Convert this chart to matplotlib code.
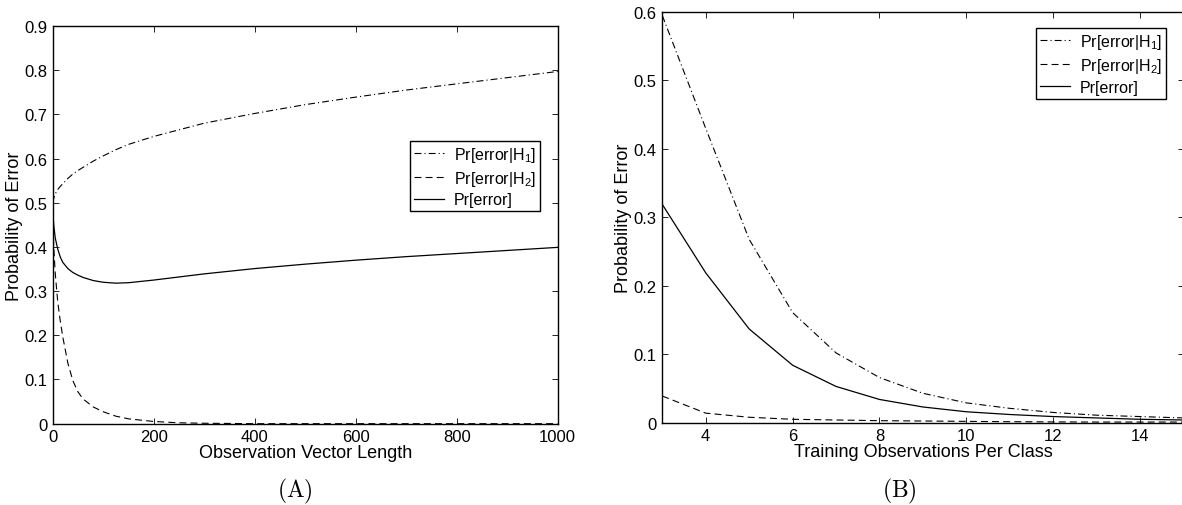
import matplotlib
matplotlib.use('Agg')
import matplotlib.pyplot as plt

# fontes parecidas com o Helvetica do MATLAB
plt.rcParams['font.family'] = ['Liberation Sans', 'DejaVu Sans']
plt.rcParams['mathtext.fontset'] = 'custom'
plt.rcParams['mathtext.rm'] = 'Liberation Sans'
plt.rcParams['mathtext.it'] = 'Liberation Sans:italic'
plt.rcParams['lines.scale_dashes'] = False

# (A) probabilidade de erro vs comprimento do vetor de observacao
obs_len = [0, 2, 5, 10, 15, 20, 30, 40, 50, 60, 80, 100, 125, 150, 200,
           250, 300, 400, 500, 600, 700, 800, 900, 1000]
err_h1_a = [0.50, 0.51, 0.52, 0.53, 0.537, 0.543, 0.555, 0.565, 0.573, 0.58,
            0.594, 0.606, 0.62, 0.632, 0.65, 0.665, 0.68, 0.702, 0.722,
            0.739, 0.755, 0.769, 0.783, 0.797]
err_h2_a = [0.47, 0.40, 0.34, 0.275, 0.232, 0.196, 0.137, 0.097, 0.072, 0.056,
            0.038, 0.027, 0.017, 0.011, 0.005, 0.002, 0.001, 0.0, 0.0, 0.0,
            0.0, 0.0, 0.0, 0.0]
err_tot_a = [0.48, 0.45, 0.42, 0.395, 0.377, 0.365, 0.351, 0.342, 0.336, 0.331,
             0.324, 0.32, 0.318, 0.319, 0.325, 0.332, 0.339, 0.351, 0.361,
             0.37, 0.378, 0.385, 0.392, 0.399]

# (B) probabilidade de erro vs observacoes de treino por classe
n_train = [3, 4, 5, 6, 7, 8, 9, 10, 11, 12, 13, 14, 15]
err_h1_b = [0.595, 0.43, 0.268, 0.161, 0.102, 0.066, 0.043, 0.029, 0.021,
            0.015, 0.011, 0.009, 0.007]
err_h2_b = [0.039, 0.014, 0.008, 0.005, 0.004, 0.003, 0.0025, 0.002, 0.0015,
            0.0012, 0.001, 0.001, 0.001]
err_tot_b = [0.319, 0.219, 0.137, 0.084, 0.053, 0.034, 0.023, 0.016, 0.012,
             0.009, 0.007, 0.005, 0.004]

labels = ['Pr[error|H$_1$]', 'Pr[error|H$_2$]', 'Pr[error]']
dashdot = (0, (5, 2.2, 0.8, 2.2))
dashed = (0, (5, 3))

fig = plt.figure(figsize=(11.82, 5.06), dpi=100)
ax1 = fig.add_axes([0.0446, 0.1607, 0.4272, 0.786])
ax2 = fig.add_axes([0.5603, 0.1626, 0.441, 0.8117])


def style_axes(ax):
    ax.tick_params(direction='in', length=4, width=0.6, labelsize=12,
                   top=True, right=True, pad=4)
    for s in ax.spines.values():
        s.set_linewidth(1.0)


ax1.plot(obs_len, err_h1_a, color='black', lw=0.8, linestyle=dashdot, label=labels[0])
ax1.plot(obs_len, err_h2_a, color='black', lw=0.8, linestyle=dashed, label=labels[1])
ax1.plot(obs_len, err_tot_a, color='black', lw=0.9, linestyle='-', label=labels[2])
ax1.set_xlim(0, 1000)
ax1.set_ylim(0, 0.9)
ax1.set_xticks([0, 200, 400, 600, 800, 1000])
ax1.set_yticks([0, 0.1, 0.2, 0.3, 0.4, 0.5, 0.6, 0.7, 0.8, 0.9])
ax1.set_yticklabels(['0', '0.1', '0.2', '0.3', '0.4', '0.5', '0.6', '0.7', '0.8', '0.9'])
style_axes(ax1)
ax1.set_xlabel('Observation Vector Length', fontsize=13, labelpad=0)
ax1.set_ylabel('Probability of Error', fontsize=13, labelpad=1)
ax1.legend(loc='upper right', bbox_to_anchor=(0.965, 0.711), borderaxespad=0,
           fancybox=False, framealpha=1, edgecolor='black', fontsize=11.5,
           handlelength=1.9, handletextpad=0.6, labelspacing=0.3, borderpad=0.25)

ax2.plot(n_train, err_h1_b, color='black', lw=0.8, linestyle=dashdot, label=labels[0])
ax2.plot(n_train, err_h2_b, color='black', lw=0.8, linestyle=dashed, label=labels[1])
ax2.plot(n_train, err_tot_b, color='black', lw=0.9, linestyle='-', label=labels[2])
ax2.set_xlim(3, 15)
ax2.set_ylim(0, 0.6)
ax2.set_xticks([4, 6, 8, 10, 12, 14])
ax2.set_yticks([0, 0.1, 0.2, 0.3, 0.4, 0.5, 0.6])
ax2.set_yticklabels(['0', '0.1', '0.2', '0.3', '0.4', '0.5', '0.6'])
style_axes(ax2)
ax2.set_xlabel('Training Observations Per Class', fontsize=13, labelpad=0)
ax2.set_ylabel('Probability of Error', fontsize=13, labelpad=1)
ax2.legend(loc='upper right', bbox_to_anchor=(0.966, 0.961), borderaxespad=0,
           fancybox=False, framealpha=1, edgecolor='black', fontsize=11.5,
           handlelength=1.9, handletextpad=0.6, labelspacing=0.3, borderpad=0.25)

fig.text(295 / 1182, 1 - 491 / 506, r'$\mathrm{(A)}$', math_fontfamily='cm',
         fontsize=17, ha='center', va='center')
fig.text(899 / 1182, 1 - 491 / 506, r'$\mathrm{(B)}$', math_fontfamily='cm',
         fontsize=17, ha='center', va='center')

fig.savefig('out.png', dpi=100)
